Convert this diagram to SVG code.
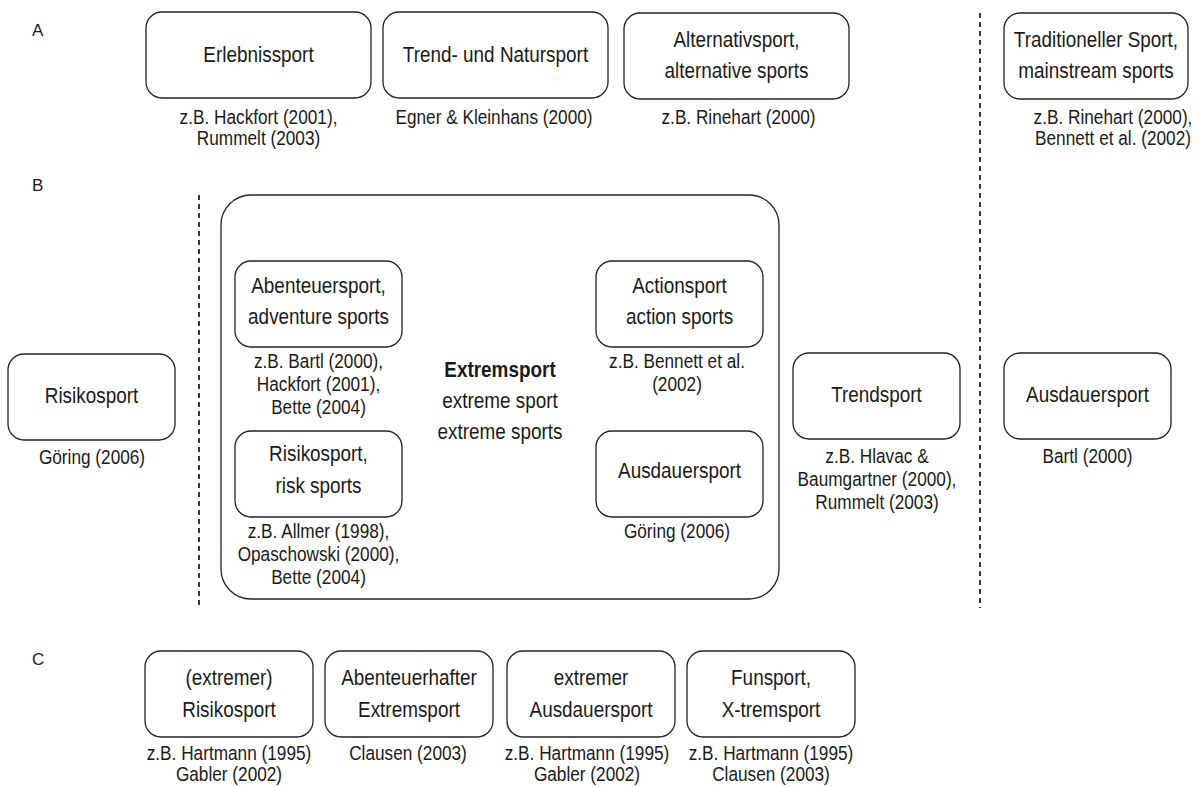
<svg xmlns="http://www.w3.org/2000/svg" width="1201" height="787" viewBox="0 0 1201 787">
<style>
.box{fill:#fff;stroke:#222;stroke-width:1.3}
.big{fill:none;stroke:#222;stroke-width:1.3}
.sep{stroke:#222;stroke-width:1.8;stroke-dasharray:5 4;fill:none}
text{font-family:"Liberation Sans",Arial,sans-serif;fill:#1a1a1a;text-anchor:middle}
.lb{font-size:22px}
.ct{font-size:20.5px}
.sec{font-size:17px;text-anchor:start}
.bold{font-weight:bold}
</style>
<rect width="1201" height="787" fill="#fff"/>
<g id="connectors">
<line class="sep" x1="980" y1="13" x2="980" y2="608"/>
<line class="sep" x1="199" y1="195" x2="199" y2="608"/>
</g>
<g id="section-labels">
<text class="sec" x="32" y="36">A</text>
<text class="sec" x="32" y="191">B</text>
<text class="sec" x="32" y="665">C</text>
</g>
<g id="erlebnissport">
<rect class="box" x="146" y="12" width="225" height="86" rx="16"/>
<text class="lb" transform="translate(258.5 62) scale(.86 1)">Erlebnissport</text>
<text class="ct" transform="translate(258.5 124) scale(.84 1)">z.B. Hackfort (2001),</text>
<text class="ct" transform="translate(258.5 145) scale(.84 1)">Rummelt (2003)</text>
</g>
<g id="trend-natursport">
<rect class="box" x="383" y="12" width="225" height="86" rx="16"/>
<text class="lb" transform="translate(495.5 62) scale(.86 1)">Trend- und Natursport</text>
<text class="ct" transform="translate(494 124) scale(.84 1)">Egner &amp; Kleinhans (2000)</text>
</g>
<g id="alternativsport">
<rect class="box" x="624" y="13" width="225" height="86" rx="16"/>
<text class="lb" transform="translate(736.5 47) scale(.86 1)">Alternativsport,</text>
<text class="lb" transform="translate(736.5 78) scale(.86 1)">alternative sports</text>
<text class="ct" transform="translate(738.5 124) scale(.84 1)">z.B. Rinehart (2000)</text>
</g>
<g id="traditioneller-sport">
<rect class="box" x="1004" y="13" width="184" height="86" rx="16"/>
<text class="lb" transform="translate(1096 47) scale(.86 1)">Traditioneller Sport,</text>
<text class="lb" transform="translate(1096 78) scale(.86 1)">mainstream sports</text>
<text class="ct" transform="translate(1113 124) scale(.84 1)">z.B. Rinehart (2000),</text>
<text class="ct" transform="translate(1113 145) scale(.84 1)">Bennett et al. (2002)</text>
</g>
<g id="risikosport-b">
<rect class="box" x="8" y="354" width="167" height="86" rx="16"/>
<text class="lb" transform="translate(91.5 403) scale(.86 1)">Risikosport</text>
<text class="ct" transform="translate(92 464) scale(.84 1)">Göring (2006)</text>
</g>
<g id="extremsport">
<rect class="big" x="221" y="195" width="558" height="404" rx="30"/>
<text class="lb bold" transform="translate(500 377) scale(.86 1)">Extremsport</text>
<text class="lb" transform="translate(500 408) scale(.86 1)">extreme sport</text>
<text class="lb" transform="translate(500 439) scale(.86 1)">extreme sports</text>
</g>
<g id="abenteuersport">
<rect class="box" x="235" y="261" width="167" height="86" rx="16"/>
<text class="lb" transform="translate(318.5 293) scale(.86 1)">Abenteuersport,</text>
<text class="lb" transform="translate(318.5 324) scale(.86 1)">adventure sports</text>
<text class="ct" transform="translate(318.5 368) scale(.84 1)">z.B. Bartl (2000),</text>
<text class="ct" transform="translate(318.5 391) scale(.84 1)">Hackfort (2001),</text>
<text class="ct" transform="translate(318.5 414) scale(.84 1)">Bette (2004)</text>
</g>
<g id="risikosport-inner">
<rect class="box" x="235" y="431" width="167" height="86" rx="16"/>
<text class="lb" transform="translate(318.5 461) scale(.86 1)">Risikosport,</text>
<text class="lb" transform="translate(318.5 493) scale(.86 1)">risk sports</text>
<text class="ct" transform="translate(318.5 538) scale(.84 1)">z.B. Allmer (1998),</text>
<text class="ct" transform="translate(318.5 561) scale(.84 1)">Opaschowski (2000),</text>
<text class="ct" transform="translate(318.5 584) scale(.84 1)">Bette (2004)</text>
</g>
<g id="actionsport">
<rect class="box" x="596" y="261" width="167" height="86" rx="16"/>
<text class="lb" transform="translate(679.5 293) scale(.86 1)">Actionsport</text>
<text class="lb" transform="translate(679.5 324) scale(.86 1)">action sports</text>
<text class="ct" transform="translate(677 368) scale(.84 1)">z.B. Bennett et al.</text>
<text class="ct" transform="translate(677 391) scale(.84 1)">(2002)</text>
</g>
<g id="ausdauersport-inner">
<rect class="box" x="596" y="431" width="167" height="86" rx="16"/>
<text class="lb" transform="translate(679.5 478) scale(.86 1)">Ausdauersport</text>
<text class="ct" transform="translate(677 538) scale(.84 1)">Göring (2006)</text>
</g>
<g id="trendsport">
<rect class="box" x="793" y="353" width="167" height="86" rx="16"/>
<text class="lb" transform="translate(876.5 402) scale(.86 1)">Trendsport</text>
<text class="ct" transform="translate(877 463) scale(.84 1)">z.B. Hlavac &amp;</text>
<text class="ct" transform="translate(877 486) scale(.84 1)">Baumgartner (2000),</text>
<text class="ct" transform="translate(877 509) scale(.84 1)">Rummelt (2003)</text>
</g>
<g id="ausdauersport-b">
<rect class="box" x="1004" y="353" width="167" height="86" rx="16"/>
<text class="lb" transform="translate(1087.5 402) scale(.86 1)">Ausdauersport</text>
<text class="ct" transform="translate(1087.5 463) scale(.84 1)">Bartl (2000)</text>
</g>
<g id="extremer-risikosport">
<rect class="box" x="145" y="651" width="168" height="86" rx="16"/>
<text class="lb" transform="translate(229 685) scale(.86 1)">(extremer)</text>
<text class="lb" transform="translate(229 717) scale(.86 1)">Risikosport</text>
<text class="ct" transform="translate(229 760) scale(.84 1)">z.B. Hartmann (1995)</text>
<text class="ct" transform="translate(229 781) scale(.84 1)">Gabler (2002)</text>
</g>
<g id="abenteuerhafter-extremsport">
<rect class="box" x="325" y="651" width="168" height="86" rx="16"/>
<text class="lb" transform="translate(409 685) scale(.86 1)">Abenteuerhafter</text>
<text class="lb" transform="translate(409 717) scale(.86 1)">Extremsport</text>
<text class="ct" transform="translate(408 760) scale(.84 1)">Clausen (2003)</text>
</g>
<g id="extremer-ausdauersport">
<rect class="box" x="507" y="651" width="168" height="86" rx="16"/>
<text class="lb" transform="translate(591 685) scale(.86 1)">extremer</text>
<text class="lb" transform="translate(591 717) scale(.86 1)">Ausdauersport</text>
<text class="ct" transform="translate(587 760) scale(.84 1)">z.B. Hartmann (1995)</text>
<text class="ct" transform="translate(587 781) scale(.84 1)">Gabler (2002)</text>
</g>
<g id="funsport">
<rect class="box" x="687" y="651" width="168" height="86" rx="16"/>
<text class="lb" transform="translate(771 685) scale(.86 1)">Funsport,</text>
<text class="lb" transform="translate(771 717) scale(.86 1)">X-tremsport</text>
<text class="ct" transform="translate(771 760) scale(.84 1)">z.B. Hartmann (1995)</text>
<text class="ct" transform="translate(771 781) scale(.84 1)">Clausen (2003)</text>
</g>
</svg>
